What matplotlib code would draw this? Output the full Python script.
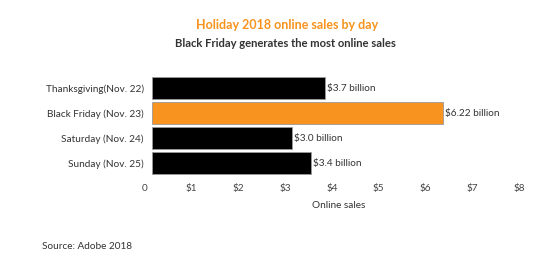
import matplotlib.pyplot as plt
import matplotlib.transforms as mtransforms

plt.rcParams['font.family'] = ['Lato', 'DejaVu Sans']

days = ['Thanksgiving(Nov. 22)', 'Black Friday (Nov. 23)', 'Saturday (Nov. 24)', 'Sunday (Nov. 25)']
sales = [3.7, 6.22, 3.0, 3.4]
value_labels = ['$3.7 billion', '$6.22 billion', '$3.0 billion', '$3.4 billion']
ticks = [0, 1, 2, 3, 4, 5, 6, 7, 8]
tick_labels = ['0', '$1', '$2', '$3', '$4', '$5', '$6', '$7', '$8']

orange = '#F7931E'
colors = [orange if d.startswith('Black Friday') else 'black' for d in days]

fig = plt.figure(figsize=(5.58, 2.56), dpi=100)
ax = fig.add_axes([0.2724, 0.3145, 0.670, 0.39])

pos = list(range(len(days)))
ax.barh(pos, sales, height=0.88, color=colors, edgecolor='#9a9a9a', linewidth=0.6)
for p, v, lab in zip(pos, sales, value_labels):
    ax.text(v + 0.04, p, lab, va='center', ha='left', fontsize=7.2, color='#333333')

ax.set_ylim(len(days) - 0.5, -0.5)
ax.set_xlim(0, 8)
ax.set_yticks(pos)
ax.set_yticklabels(days, fontsize=7.2, color='#333333')
ax.set_xticks(ticks)
ax.set_xticklabels(tick_labels, fontsize=7.2, color='#444444')
ax.tick_params(length=0, pad=6)
ax.tick_params(axis='x', pad=6)
for s in ax.spines.values():
    s.set_visible(False)

# tick labels sit a bit left of the ticks in the original
shift = mtransforms.ScaledTranslation(-7 / 100, 0, fig.dpi_scale_trans)
for t in ax.get_xticklabels():
    t.set_transform(t.get_transform() + shift)

ax.set_xlabel('Online sales', fontsize=7.2, color='#333333', labelpad=6)

fig.text(0.515, 0.902, 'Holiday 2018 online sales by day', ha='center', va='center',
         fontsize=9, fontweight='bold', color=orange)
fig.text(0.512, 0.832, 'Black Friday generates the most online sales', ha='center', va='center',
         fontsize=8.1, fontweight='bold', color='#333333')
fig.text(0.075, 0.039, 'Source: Adobe 2018', ha='left', va='center', fontsize=7.2, color='#333333')

fig.savefig('out.png', dpi=100)
